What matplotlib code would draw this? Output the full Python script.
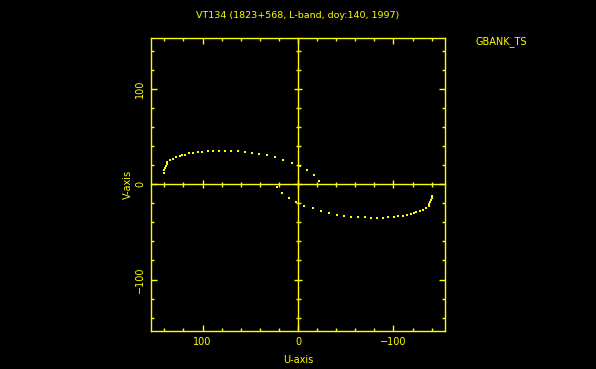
"""
uv_coverage.py - UV coverage of VT134 (1823+568, L-band), GBANK_TS baseline.
"""
import numpy as np
import matplotlib
matplotlib.use("Agg")
import matplotlib.pyplot as plt
from matplotlib.ticker import MultipleLocator

# one track of (u, v) samples; the conjugate (-u, -v)
# half is plotted from the same arrays
u_track = [140.3, 140.3, 139.5, 138.8, 137.5, 136.8, 134.3, 130.9, 127.3,
           123.9, 121.5, 117.9, 114.1, 109.5, 104.7, 100.1, 94.2, 89.0,
           82.7, 76.8, 70.2, 63.1, 55.8, 48.5, 40.8, 32.5, 24.1, 15.7,
           6.6, -1.8, -9.4, -16.4, -22.0]
v_track = [12.1, 14.5, 16.7, 18.8, 20.8, 23.2, 25.0, 26.7, 28.1, 29.5,
           30.2, 31.2, 32.3, 32.9, 33.6, 34.3, 34.7, 35.0, 35.0, 35.2,
           34.7, 34.7, 34.0, 33.0, 31.9, 30.2, 28.1, 25.3, 22.5, 19.1,
           14.6, 9.4, 3.1]

title = "VT134 (1823+568, L-band, doy:140, 1997)"
baseline = "GBANK_TS"
lim = 154

YEL = "#ffff00"
plt.rcParams["font.family"] = "DejaVu Sans"

fig = plt.figure(figsize=(5.96, 3.69), dpi=100, facecolor="black")
rect = [151 / 596, 1 - 331 / 369, 294 / 596, 293.5 / 369]
ax = fig.add_axes(rect, facecolor="black")

u = np.array(u_track)
v = np.array(v_track)
ax.plot(u, v, "s", ms=1.5, mew=0, color=YEL)
ax.plot(-u, -v, "s", ms=1.5, mew=0, color=YEL)

ax.set_xlim(lim, -lim)
ax.set_ylim(-lim, lim)
for sp in ax.spines.values():
    sp.set_color(YEL)
    sp.set_linewidth(1.0)
ax.xaxis.set_major_locator(MultipleLocator(100))
ax.xaxis.set_minor_locator(MultipleLocator(20))
ax.yaxis.set_major_locator(MultipleLocator(100))
ax.yaxis.set_minor_locator(MultipleLocator(20))
ax.tick_params(which="both", direction="in", colors=YEL, top=True, right=True,
               labelsize=7, width=1.0)
ax.tick_params(which="major", length=4.0, pad=4)
ax.tick_params(which="minor", length=2.2)
for lbl in ax.get_yticklabels():
    lbl.set_rotation(90)
    lbl.set_va("center")
ax.set_xlabel("U-axis", color=YEL, fontsize=7, labelpad=6)
ax.set_ylabel("V-axis", color=YEL, fontsize=7, labelpad=2)

# the cross through the origin, ticked on both sides
cx = fig.add_axes(rect, facecolor="none", sharex=ax, sharey=ax)
cx.spines["top"].set_visible(False)
cx.spines["right"].set_visible(False)
for side in ("left", "bottom"):
    cx.spines[side].set_position(("data", 0))
    cx.spines[side].set_color(YEL)
    cx.spines[side].set_linewidth(1.0)
cx.tick_params(which="both", direction="inout", colors=YEL, width=1.0,
               labelbottom=False, labelleft=False)
cx.tick_params(which="major", length=6.2)
cx.tick_params(which="minor", length=3.6)

fig.text(298 / 596, 1 - 16 / 369, title, color=YEL, fontsize=6.8,
         ha="center", va="center")
fig.text(475 / 596, 1 - 42 / 369, baseline, color=YEL, fontsize=7,
         ha="left", va="center")

fig.savefig("out.png", dpi=100, facecolor="black")
